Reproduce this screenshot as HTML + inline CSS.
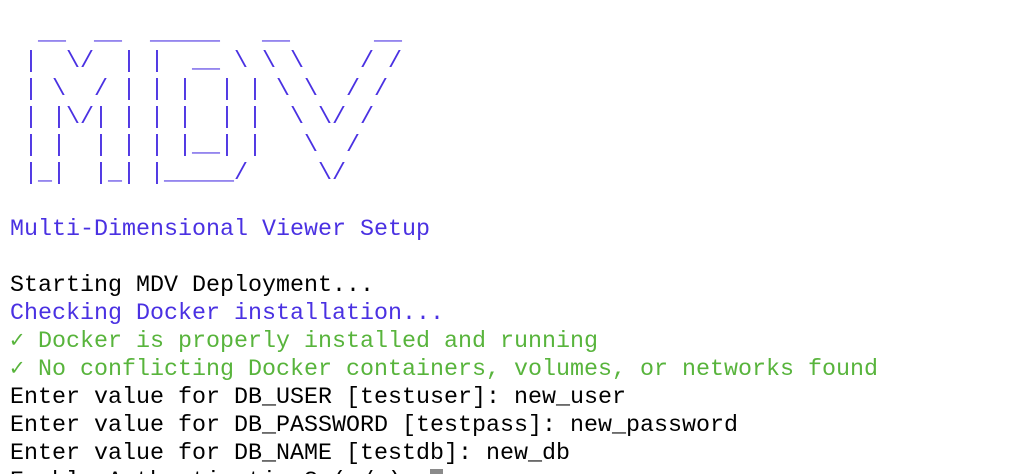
<!DOCTYPE html>
<html><head><meta charset="utf-8"><style>
html,body{margin:0;padding:0;background:#fff;width:1012px;height:474px;overflow:hidden}
pre{margin:0;padding:20px 0 0 10px;font-family:"Liberation Mono","DejaVu Sans Mono",monospace;font-size:23.33px;line-height:28px;color:#000}
.p{color:#4a31e2}.g{color:#58b43c}
.cur{display:inline-block;width:13px;height:24px;background:#8a8a8a;vertical-align:-6px}
</style></head><body><pre><span class="p">  __  __  _____   __      __
 |  \/  | |  __ \ \ \    / /
 | \  / | | |  | | \ \  / /
 | |\/| | | |  | |  \ \/ /
 | |  | | | |__| |   \  /
 |_|  |_| |_____/     \/

Multi-Dimensional Viewer Setup</span>

Starting MDV Deployment...
<span class="p">Checking Docker installation...</span>
<span class="g">✓ Docker is properly installed and running</span>
<span class="g">✓ No conflicting Docker containers, volumes, or networks found</span>
Enter value for DB_USER [testuser]: new_user
Enter value for DB_PASSWORD [testpass]: new_password
Enter value for DB_NAME [testdb]: new_db
Enable Authentication? (y/n): <span class="cur"></span></pre></body></html>
